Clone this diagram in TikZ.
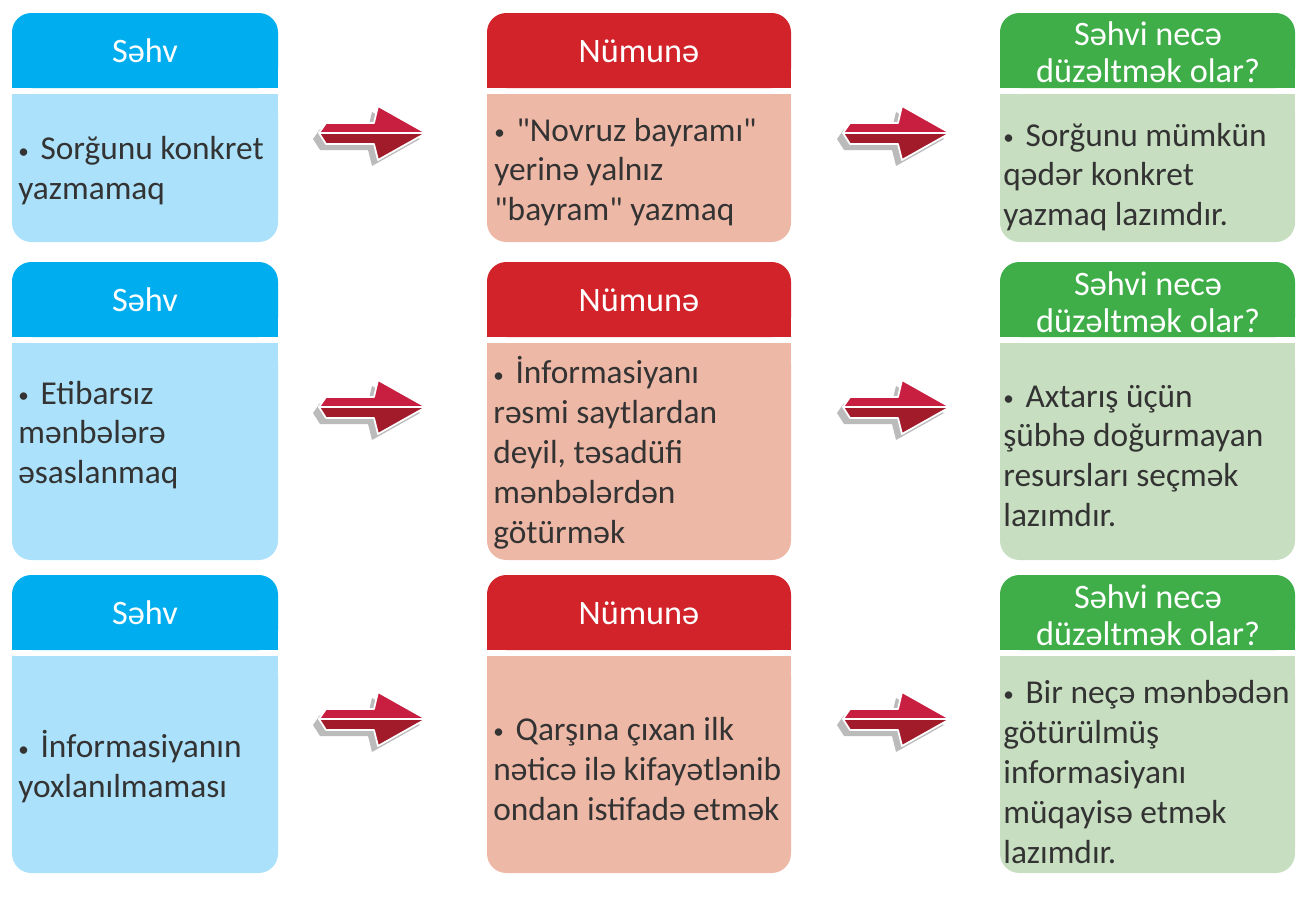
\documentclass[tikz,border=0pt]{standalone}
\usepackage{fontspec}
\setmainfont{Carlito}[Ligatures=TeXOff]
\usepackage{tikz}
\usetikzlibrary{arrows.meta}
\definecolor{sehvhead}{HTML}{00AEEF}
\definecolor{sehvbody}{HTML}{ABE1FA}
\definecolor{numhead}{HTML}{D2232A}
\definecolor{numbody}{HTML}{EEB8A6}
\definecolor{fixhead}{HTML}{3FAE49}
\definecolor{fixbody}{HTML}{C7DFC0}
\definecolor{arrowtop}{HTML}{C81F41}
\definecolor{arrowbot}{HTML}{A11B2B}
\definecolor{arrowshade}{HTML}{BBBBBB}
\definecolor{textdark}{HTML}{333333}
\newcommand{\dotitem}{\raisebox{1pt}{\fontsize{12}{12}\selectfont•}\hspace{0.35em}}
\tikzset{
  every picture/.style={line join=round, line cap=round},
  headtext/.style={text=white, font=\fontsize{19.5}{21}\selectfont, align=center, inner sep=0pt},
  bodytext/.style={text=textdark, font=\fontsize{19}{22.7}\selectfont, align=left, inner sep=0pt, anchor=west},
  redarrow/.pic={
    \fill[arrowshade](-6,6)--(1,-4)--(49,-4)--(53,-21)--(101,6)--(53,33)--(49,17)--(1,17)--cycle;
    \draw[white,line width=1pt,fill=arrowtop](0,0)--(7,-10)--(55,-10)--(59,-27)--(107,0)--cycle;
    \draw[white,line width=1pt,fill=arrowbot](0,0)--(107,0)--(59,27)--(55,11)--(7,11)--cycle;
  },
}

\begin{document}
\begin{tikzpicture}[x=0.02cm,y=-0.02cm]
\useasboundingbox (0,0) rectangle (1296,903);
% cards
\foreach \xa/\xb/\hc/\bc in {12/278/sehvhead/sehvbody,487/791/numhead/numbody,1000/1295/fixhead/fixbody}{
  \foreach \ya/\yb/\yc/\yd in {13/88/94/242,262/337/343/560,575/650/656/873}{
    \fill[\hc,rounded corners=11pt](\xa,\ya)rectangle(\xb,\yb);
    \fill[\hc](\xa,\yb-30)rectangle(\xb,\yb);
    \fill[\bc,rounded corners=11pt](\xa,\yc)rectangle(\xb,\yd);
    \fill[\bc](\xa,\yc)rectangle(\xb,\yc+30);
  }
}
% headers
\node[headtext](h1) at (145,51){Səhv};
\node[headtext](h2) at (145,300){Səhv};
\node[headtext](h3) at (145,613){Səhv};
\node[headtext](n1) at (639,51){Nümunə};
\node[headtext](n2) at (639,300){Nümunə};
\node[headtext](n3) at (639,613){Nümunə};
\node[headtext](f1) at (1148,52){Səhvi necə\\düzəltmək olar?};
\node[headtext](f2) at (1148,302){Səhvi necə\\düzəltmək olar?};
\node[headtext](f3) at (1148,615){Səhvi necə\\düzəltmək olar?};
% texts
\node[bodytext](s1) at (18,171){\dotitem Sorğunu konkret\\yazmamaq};
\node[bodytext](s2) at (18,435){\dotitem Etibarsız\\mənbələrə\\əsaslanmaq};
\node[bodytext](s3) at (18,767){\dotitem İnformasiyanın\\yoxlanılmaması};
\node[bodytext](e1) at (494,172){\dotitem "Novruz bayramı"\\yerinə yalnız\\"bayram" yazmaq};
\node[bodytext](e2) at (493,453){\dotitem İnformasiyanı\\rəsmi saytlardan\\deyil, təsadüfi\\mənbələrdən\\götürmək};
\node[bodytext](e3) at (493,769){\dotitem Qarşına çıxan ilk\\nəticə ilə kifayətlənib\\ondan istifadə etmək};
\node[bodytext](d1) at (1003,177){\dotitem Sorğunu mümkün\\qədər konkret\\yazmaq lazımdır.};
\node[bodytext](d2) at (1003,456){\dotitem Axtarış üçün\\şübhə doğurmayan\\resursları seçmək\\lazımdır.};
\node[bodytext](d3) at (1003,772){\dotitem Bir neçə mənbədən\\götürülmüş\\informasiyanı\\müqayisə etmək\\lazımdır.};
% arrows
\pic at (319,133){redarrow};
\pic at (843,133){redarrow};
\pic at (319,407){redarrow};
\pic at (843,407){redarrow};
\pic at (319,719){redarrow};
\pic at (843,719){redarrow};
\end{tikzpicture}
\end{document}
